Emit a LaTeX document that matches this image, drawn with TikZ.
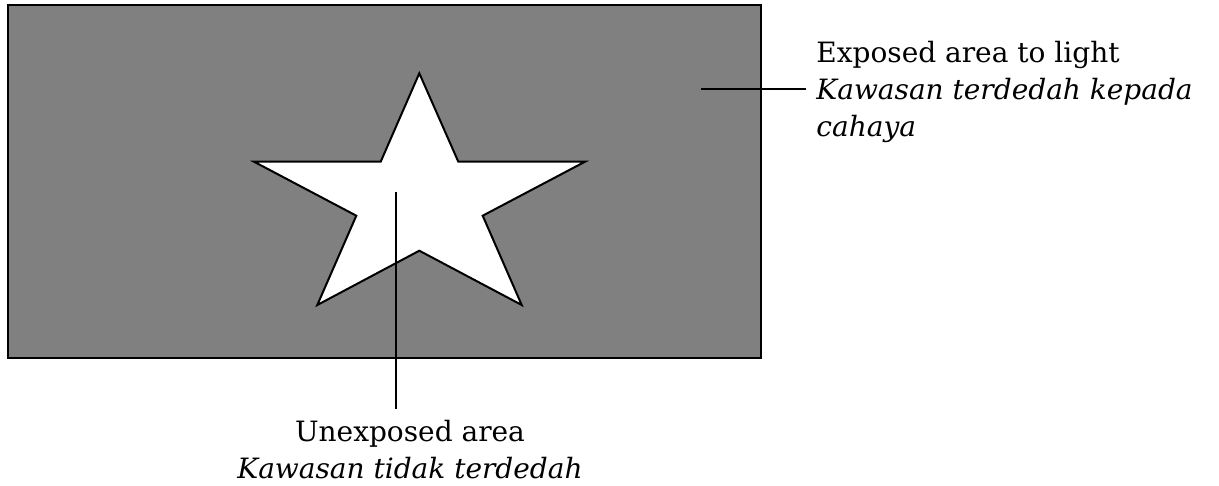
\documentclass[tikz,border=0pt]{standalone}
\usepackage{fontspec}
\setmainfont{DejaVu Serif}
\definecolor{filmgray}{RGB}{128,128,128}
\tikzset{
  lbl/.style={font=\fontsize{14}{18.5}\selectfont, inner sep=5pt},
  pointer/.style={black, line width=0.75pt},
  starline/.style={draw=black, fill=white, line width=1pt, line join=miter},
}
\begin{document}
\begin{tikzpicture}[x=0.5pt,y=-0.5pt]
\useasboundingbox (0,0) rectangle (1219,486);
\draw[fill=filmgray, line width=1pt] (8,5) rectangle (761,358);
\draw[starline] (419.3,73.3) -- (458.3,161.7) -- (585,161.7) -- (482.7,215.7) -- (521.7,305) -- (419.3,250.7) -- (317.3,305) -- (356.3,215.7) -- (254,161.7) -- (380.7,161.7) -- cycle;

\coordinate (ex) at (701,89);
\node[lbl, align=left, anchor=base west] (expo) at (806,136.7) {Exposed area to light\\\textit{Kawasan terdedah kepada}\\\textit{cahaya}};
\draw[pointer] (ex) -- (ex -| expo.west);

\coordinate (unex) at (396,191.7);
\node[lbl, align=center, anchor=base] (unexpo) at (410,478) {Unexposed area\\\textit{Kawasan tidak terdedah}};
\draw[pointer] (unex) -- (unex |- unexpo.north);
\end{tikzpicture}
\end{document}
